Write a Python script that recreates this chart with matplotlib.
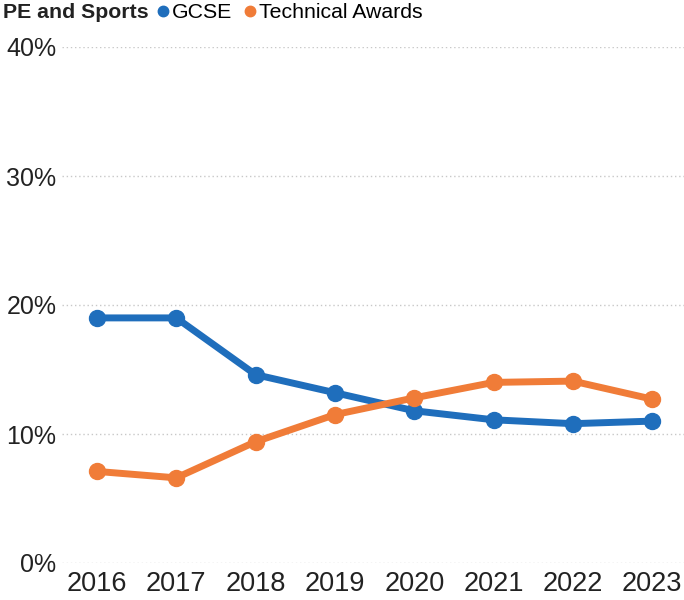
import matplotlib
matplotlib.use("Agg")
import matplotlib.pyplot as plt
from matplotlib.lines import Line2D

years = ["2016", "2017", "2018", "2019", "2020", "2021", "2022", "2023"]
gcse = [19.0, 19.0, 14.6, 13.2, 11.8, 11.1, 10.8, 11.0]
technical = [7.1, 6.6, 9.4, 11.5, 12.8, 14.0, 14.1, 12.7]
yticks = [0, 10, 20, 30, 40]
ytick_labels = ["0%", "10%", "20%", "30%", "40%"]

BLUE = "#1F6EBC"
ORANGE = "#F07C38"

plt.rcParams['font.family'] = ['Liberation Sans', 'DejaVu Sans']

W, H = 684, 600
fig = plt.figure(figsize=(W / 100, H / 100), dpi=100)
left, right, top, bottom = 62, 684, 47, 563
ax = fig.add_axes([left / W, 1 - bottom / H, (right - left) / W, (bottom - top) / H])

x = list(range(len(years)))
ax.plot(x, gcse, color=BLUE, lw=5, marker='o', ms=11.5, clip_on=False, zorder=3)
ax.plot(x, technical, color=ORANGE, lw=5, marker='o', ms=11.5, clip_on=False, zorder=3)

ax.set_ylim(0, 40)
ax.set_xlim(-0.44, 7.40)
ax.set_yticks(yticks)
ax.set_yticklabels(ytick_labels, fontsize=18, color="#222222")
ax.set_xticks(x)
ax.set_xticklabels(years, fontsize=19.5, color="#222222")
ax.tick_params(axis='both', length=0)
ax.tick_params(axis='y', pad=4)
ax.tick_params(axis='x', pad=6)
ax.grid(axis='y', linestyle=(0, (1, 2)), color="#C8C8C8", lw=1)
for s in ax.spines.values():
    s.set_visible(False)

fig.text(3 / W, 1 - 13 / H, "PE and Sports", fontsize=15.3, fontweight='bold',
         color="#222222", va='center', ha='left')
handles = [Line2D([], [], marker='o', ls='none', color=BLUE, ms=7.5),
           Line2D([], [], marker='o', ls='none', color=ORANGE, ms=7.5)]
fig.legend(handles, ["GCSE", "Technical Awards"], loc='center left',
           bbox_to_anchor=(157 / W, 1 - 13 / H), ncol=2, frameon=False,
           fontsize=15.3, handlelength=0.6, handletextpad=0.1,
           columnspacing=0.55, borderpad=0, borderaxespad=0)

fig.savefig("out.png", dpi=100)
